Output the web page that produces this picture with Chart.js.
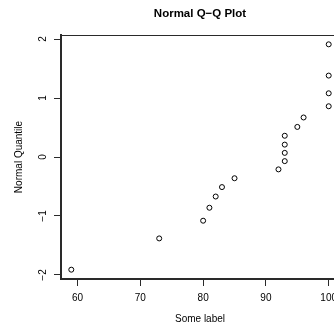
<!DOCTYPE html>
<html>
<head>
<meta charset="utf-8">
<script src="https://cdn.jsdelivr.net/npm/chart.js@4.4.0/dist/chart.umd.min.js"></script>
<style>
  html, body { margin: 0; padding: 0; background: #fff; }
  #wrap { width: 334px; height: 327px; overflow: hidden; position: relative; }
  #qq { position: absolute; left: 0; top: 0; }
</style>
</head>
<body>
<div id="wrap"><canvas id="qq" width="344" height="327"></canvas></div>
<script>
// sample values (sorted) and their theoretical normal quantiles
const sampleValues = [59, 73, 80, 81, 82, 83, 85, 92, 93, 93, 93, 93, 95, 96, 100, 100, 100, 100];
const normalQuantiles = [-1.91, -1.38, -1.08, -0.86, -0.67, -0.51, -0.36, -0.21, -0.07, 0.07,
                         0.21, 0.36, 0.51, 0.67, 0.86, 1.08, 1.38, 1.91];
const xTicks = [60, 70, 80, 90, 100];
const yTicks = [-2, -1, 0, 1, 2];

const FONT = "'Liberation Sans', Arial, Helvetica, sans-serif";
const INK = '#000';
const AXIS = '#2a2a2a';

// R style minus sign
const fmt = v => String(v).replace('-', '\u2212');

// plot box, main title and rotated y tick labels
const rDecor = {
  id: 'rDecor',
  afterDraw(chart) {
    const { ctx, chartArea: a, scales } = chart;
    ctx.save();
    ctx.strokeStyle = AXIS;
    ctx.lineWidth = 1;
    ctx.strokeRect(a.left + 0.5, a.top + 0.5, a.right - a.left, a.bottom - a.top);

    ctx.fillStyle = INK;
    ctx.font = 'bold 11.5px ' + FONT;
    ctx.textAlign = 'center';
    ctx.textBaseline = 'alphabetic';
    ctx.fillText('Normal Q\u2212Q Plot', (a.left + a.right) / 2, 17);

    ctx.font = '10px ' + FONT;
    yTicks.forEach(v => {
      const y = scales.y.getPixelForValue(v);
      ctx.save();
      ctx.translate(46, y);
      ctx.rotate(-Math.PI / 2);
      ctx.fillText(fmt(v), 0, 0);
      ctx.restore();
    });
    ctx.restore();
  }
};

new Chart(document.getElementById('qq'), {
  type: 'scatter',
  data: {
    datasets: [{
      data: sampleValues.map((x, i) => ({ x, y: normalQuantiles[i] })),
      pointStyle: 'circle',
      pointRadius: 2.5,
      pointHoverRadius: 2.5,
      borderColor: INK,
      borderWidth: 1,
      backgroundColor: 'rgba(0,0,0,0)'
    }]
  },
  options: {
    responsive: false,
    devicePixelRatio: 1,
    animation: false,
    events: [],
    layout: { padding: { top: 35, right: 5, left: 0, bottom: 0 } },
    plugins: { legend: { display: false }, tooltip: { enabled: false } },
    scales: {
      x: {
        type: 'linear',
        position: 'bottom',
        min: 57.36,
        max: 101.64,
        afterBuildTicks: s => { s.ticks = xTicks.map(value => ({ value })); },
        afterFit: s => { s.height = 48; s.paddingLeft = 0; s.paddingRight = 0; },
        grid: { drawOnChartArea: false, drawTicks: true, tickLength: 7, color: AXIS },
        border: { display: true, color: AXIS, width: 2 },
        ticks: { color: INK, font: { family: FONT, size: 10 }, padding: 6, maxRotation: 0 },
        title: { display: true, text: 'Some label', color: INK,
                 font: { family: FONT, size: 10 }, padding: { top: 0, bottom: 2 } }
      },
      y: {
        type: 'linear',
        position: 'left',
        min: -2.068,
        max: 2.068,
        afterBuildTicks: s => { s.ticks = yTicks.map(value => ({ value })); },
        afterFit: s => { s.width = 61; s.paddingTop = 0; s.paddingBottom = 0; },
        grid: { drawOnChartArea: false, drawTicks: true, tickLength: 7, color: AXIS },
        border: { display: true, color: AXIS, width: 2 },
        ticks: { display: false },
        title: { display: true, text: 'Normal Quantile', color: INK,
                 font: { family: FONT, size: 10 }, padding: { top: 13, bottom: 0 } }
      }
    }
  },
  plugins: [rDecor]
});
</script>
</body>
</html>
